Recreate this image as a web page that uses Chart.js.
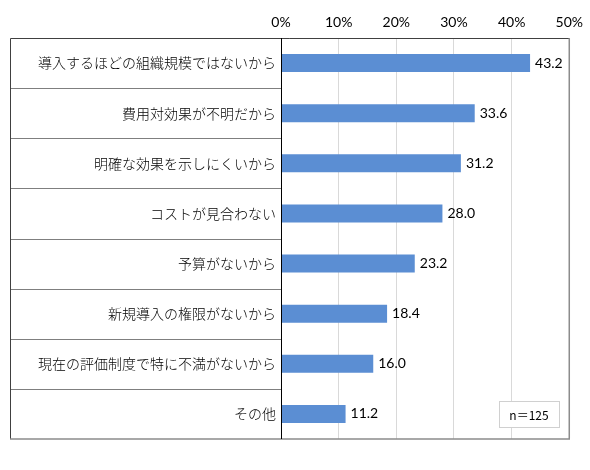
<!DOCTYPE html>
<html>
<head>
<meta charset="utf-8">
<script src="https://cdn.jsdelivr.net/npm/chart.js@4/dist/chart.umd.min.js"></script>
<style>
  html, body { margin: 0; padding: 0; background: #fff; }
  #wrap { width: 590px; height: 470px; }
</style>
</head>
<body>
<div id="wrap"><canvas id="myChart" width="590" height="470"></canvas></div>
<script>
var categories = [
    "導入するほどの組織規模ではないから",
    "費用対効果が不明だから",
    "明確な効果を示しにくいから",
    "コストが見合わない",
    "予算がないから",
    "新規導入の権限がないから",
    "現在の評価制度で特に不満がないから",
    "その他"
];
var values = [43.2, 33.6, 31.2, 28.0, 23.2, 18.4, 16.0, 11.2];
var xTicks = [0, 10, 20, 30, 40, 50];
var sampleNote = "n＝125";

var FONT = "'Noto Sans CJK JP', 'Noto Sans', sans-serif";
var NUM_FONT = "Lato, 'Noto Sans', sans-serif";

// outer frame, row separators in the label column, value labels and n box
var framePlugin = {
    id: 'frame',
    afterDraw: function (chart) {
        var ctx = chart.ctx;
        var area = chart.chartArea;
        var y = chart.scales.y;
        var left = 10;
        ctx.save();

        // separators between categories (label column only)
        ctx.strokeStyle = '#7f7f7f';
        ctx.lineWidth = 1;
        for (var i = 1; i < categories.length; i++) {
            var yy = Math.round((y.getPixelForValue(i - 1) + y.getPixelForValue(i)) / 2) + 0.5;
            ctx.beginPath();
            ctx.moveTo(left, yy);
            ctx.lineTo(area.left, yy);
            ctx.stroke();
        }

        // frame
        ctx.strokeStyle = '#404040';
        ctx.beginPath();
        ctx.moveTo(left + 0.5, area.bottom);
        ctx.lineTo(left + 0.5, area.top + 0.5);
        ctx.lineTo(area.right, area.top + 0.5);
        ctx.stroke();
        ctx.strokeStyle = '#8c8c8c';
        ctx.lineWidth = 1.5;
        ctx.beginPath();
        ctx.moveTo(area.right, area.top);
        ctx.lineTo(area.right, area.bottom);
        ctx.lineTo(left, area.bottom);
        ctx.stroke();

        // zero axis line
        ctx.strokeStyle = '#000';
        ctx.lineWidth = 1;
        ctx.beginPath();
        ctx.moveTo(Math.round(area.left) + 0.5, area.top);
        ctx.lineTo(Math.round(area.left) + 0.5, area.bottom);
        ctx.stroke();

        // value labels
        var meta = chart.getDatasetMeta(0);
        ctx.fillStyle = '#000';
        ctx.font = '14px ' + NUM_FONT;
        ctx.textAlign = 'left';
        ctx.textBaseline = 'middle';
        meta.data.forEach(function (bar, idx) {
            ctx.fillText(values[idx].toFixed(1), bar.x + 5, bar.y);
        });

        // sample size box
        var bx = 499, by = 401, bw = 60, bh = 26;
        ctx.fillStyle = '#fff';
        ctx.fillRect(bx, by, bw, bh);
        ctx.strokeStyle = '#d0d0d0';
        ctx.strokeRect(bx + 0.5, by + 0.5, bw, bh);
        ctx.fillStyle = '#000';
        ctx.textAlign = 'center';
        ctx.font = '12px ' + FONT;
        ctx.fillText(sampleNote, bx + bw / 2, by + bh / 2 + 1);

        ctx.restore();
    }
};

var ctx = document.getElementById("myChart").getContext('2d');
var myBarChart = new Chart(ctx, {
    type: 'bar',
    data: {
        labels: categories,
        datasets: [{
            data: values,
            backgroundColor: "#5b8ed3",
            borderWidth: 0,
            barPercentage: 0.36,
            categoryPercentage: 1.0
        }]
    },
    options: {
        indexAxis: 'y',
        responsive: false,
        animation: false,
        layout: {
            padding: { left: 10, right: 20, top: 0, bottom: 31 }
        },
        scales: {
            x: {
                position: 'top',
                min: 0,
                max: 50,
                afterBuildTicks: function (scale) {
                    scale.ticks = xTicks.map(function (v) { return { value: v }; });
                },
                afterFit: function (scale) {
                    scale.height = 38;
                },
                grid: {
                    color: "#d9d9d9",
                    drawTicks: false
                },
                border: { display: false },
                ticks: {
                    padding: 7,
                    color: '#000',
                    font: { family: NUM_FONT, size: 14 },
                    callback: function (v) { return v + '%'; }
                }
            },
            y: {
                afterFit: function (scale) {
                    scale.width = 271;
                },
                grid: { display: false },
                border: { display: false },
                ticks: {
                    padding: -3,
                    color: '#000',
                    font: { family: FONT, size: 14, weight: '300' }
                }
            }
        },
        plugins: {
            legend: { display: false },
            tooltip: { enabled: false }
        }
    },
    plugins: [framePlugin]
});
</script>
</body>
</html>
